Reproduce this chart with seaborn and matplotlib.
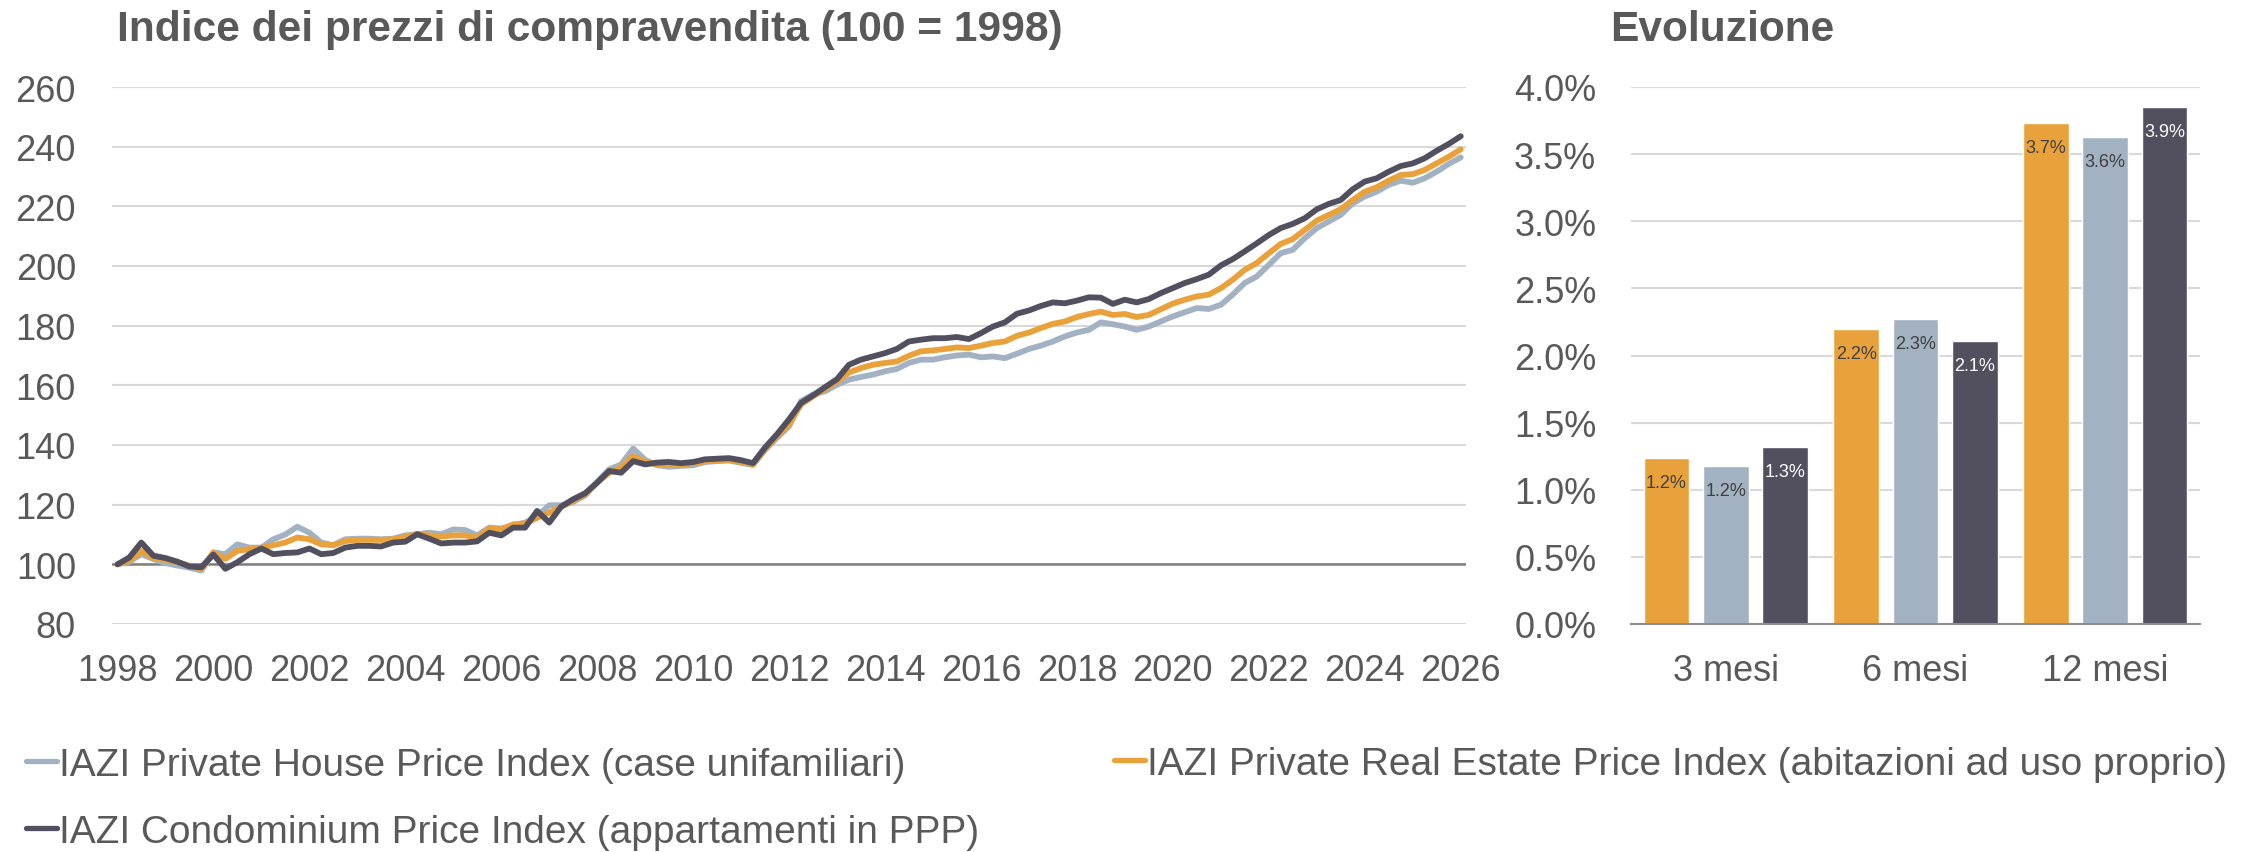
import numpy as np
import pandas as pd
import seaborn as sns
import matplotlib.pyplot as plt
from matplotlib.lines import Line2D

# Quarterly index values (1998 Q1 = 100)
house = [100, 100.9, 103.4, 101.8, 100.4, 99.6, 98.9, 97.9, 104.0, 103.4, 106.7, 105.6,
         105.6, 108.4, 110.0, 112.6, 110.6, 107.3, 106.4, 108.4, 108.6, 108.6, 108.4, 108.6,
         109.7, 110.1, 110.6, 110.1, 111.7, 111.5, 109.7, 112.3, 112.0, 113.0, 114.0, 116.2,
         119.8, 119.8, 120.9, 123.1, 127.6, 131.8, 133.5, 138.8, 135.0, 133.2, 132.7, 133.0,
         133.2, 134.3, 134.6, 134.8, 134.0, 133.3, 138.3, 142.4, 146.3, 154.7, 156.9, 158.0,
         160.2, 161.9, 162.8, 163.6, 164.7, 165.5, 167.5, 168.6, 168.6, 169.4, 170.0, 170.3,
         169.4, 169.7, 169.1, 170.6, 172.2, 173.3, 174.7, 176.4, 177.7, 178.6, 181.1, 180.5,
         179.7, 178.6, 179.7, 181.4, 183.1, 184.5, 185.9, 185.6, 187.0, 190.4, 194.3, 196.5,
         200.4, 204.3, 205.4, 209.3, 212.7, 214.9, 217.1, 221.0, 223.3, 224.9, 227.2, 228.6,
         227.9, 229.4, 231.6, 234.2, 236.4]
real_estate = [100, 101.2, 104.5, 102.0, 101.5, 100.7, 99.6, 98.5, 104.0, 101.8, 104.5, 105.1,
               105.6, 106.4, 107.3, 109.0, 108.4, 106.7, 106.4, 107.8, 108.2, 108.2, 108.2, 108.4,
               109.2, 110.1, 109.7, 109.3, 109.7, 109.7, 108.9, 112.0, 111.7, 113.4, 113.7, 115.6,
               117.3, 119.3, 121.2, 123.5, 127.4, 130.7, 132.4, 136.3, 134.3, 133.5, 133.5, 133.5,
               133.9, 134.5, 134.8, 135.0, 134.3, 133.5, 138.6, 143.0, 146.9, 153.6, 156.3, 158.8,
               161.3, 164.3, 165.8, 166.9, 167.5, 168.0, 169.9, 171.4, 171.7, 172.2, 172.7, 172.5,
               173.3, 174.2, 174.7, 176.6, 177.7, 179.2, 180.6, 181.4, 182.9, 183.9, 184.7, 183.6,
               183.9, 182.9, 183.6, 185.5, 187.4, 188.7, 189.8, 190.4, 192.6, 195.4, 198.7, 201.0,
               204.3, 207.4, 209.0, 212.1, 215.2, 217.1, 219.0, 222.1, 224.9, 226.4, 228.6, 230.5,
               230.8, 232.2, 234.4, 236.6, 239.1]
condo = [100, 102.3, 107.3, 102.9, 102.1, 100.9, 99.3, 99.0, 103.3, 98.5, 100.7, 103.4,
         105.3, 103.4, 103.8, 104.0, 105.3, 103.4, 103.8, 105.6, 106.2, 106.2, 106.0, 107.3,
         107.6, 110.1, 108.6, 107.0, 107.3, 107.3, 107.7, 110.6, 109.7, 112.3, 112.3, 117.9,
         114.0, 119.3, 121.8, 123.8, 127.4, 131.3, 130.7, 134.6, 133.5, 134.1, 134.3, 133.9,
         134.3, 135.2, 135.4, 135.6, 134.9, 133.9, 139.1, 143.6, 148.6, 154.1, 156.6, 159.4,
         162.1, 166.9, 168.6, 169.7, 170.8, 172.2, 174.7, 175.3, 175.8, 175.8, 176.2, 175.5,
         177.5, 179.7, 181.1, 184.0, 185.1, 186.6, 187.8, 187.5, 188.4, 189.5, 189.4, 187.3,
         188.7, 187.8, 188.9, 190.9, 192.6, 194.3, 195.6, 197.1, 200.2, 202.3, 204.9, 207.6,
         210.4, 212.7, 214.1, 216.0, 219.0, 220.8, 222.1, 225.7, 228.3, 229.4, 231.6, 233.5,
         234.4, 236.1, 238.6, 240.9, 243.5]
dates = pd.date_range("1998-01-01", periods=len(condo), freq="QS")

# Evoluzione (%)
periods = ["3 mesi", "6 mesi", "12 mesi"]
chg_real_estate = [1.24, 2.20, 3.73]
chg_house = [1.18, 2.27, 3.63]
chg_condo = [1.32, 2.11, 3.85]

n_house = "IAZI Private House Price Index (case unifamiliari)"
n_re = "IAZI Private Real Estate Price Index (abitazioni ad uso proprio)"
n_condo = "IAZI Condominium Price Index (appartamenti in PPP)"
colors = {n_house: "#A3B2C2", n_re: "#E9A23B", n_condo: "#52505F"}
txt = "#595959"

sns.set_theme(style="white")
plt.rcParams["font.family"] = ["Liberation Sans", "DejaVu Sans"]

W, H = 2254, 853
fig = plt.figure(figsize=(W / 100, H / 100), dpi=100)
ax1 = fig.add_axes([112 / W, 1 - 625 / H, (1466 - 112) / W, (625 - 88) / H])
ax2 = fig.add_axes([1631 / W, 1 - 625 / H, (2200 - 1631) / W, (625 - 88) / H])

# line chart
lines = pd.DataFrame({
    "data": list(dates) * 3,
    "indice": house + real_estate + condo,
    "serie": [n_house] * len(house) + [n_re] * len(real_estate) + [n_condo] * len(condo),
})
sns.lineplot(data=lines, x="data", y="indice", hue="serie",
             hue_order=[n_house, n_re, n_condo], palette=colors,
             linewidth=4.2, legend=False, ax=ax1)
ax1.axhline(100, color="#808080", linewidth=1.8, zorder=1.5)
ax1.set_xlim(pd.Timestamp("1997-11-20"), pd.Timestamp("2026-02-10"))
ax1.set_ylim(80, 260)
ax1.set_yticks(range(80, 261, 20))
years = list(range(1998, 2027, 2))
ax1.set_xticks([pd.Timestamp(f"{y}-01-01") for y in years])
ax1.set_xticklabels([str(y) for y in years])
ax1.yaxis.grid(True, color="#D9D9D9", linewidth=1.5)
ax1.set_axisbelow(True)
ax1.set_xlabel("")
ax1.set_ylabel("")
for s in ax1.spines.values():
    s.set_visible(False)
ax1.tick_params(axis="both", length=0, labelsize=26, colors=txt)
ax1.tick_params(axis="y", pad=26)
ax1.tick_params(axis="x", pad=21)

# bar chart
bars = pd.DataFrame({
    "periodo": periods * 3,
    "var": chg_real_estate + chg_house + chg_condo,
    "serie": [n_re] * 3 + [n_house] * 3 + [n_condo] * 3,
})
sns.barplot(data=bars, x="periodo", y="var", hue="serie",
            hue_order=[n_re, n_house, n_condo], palette=colors,
            width=0.94, gap=0.23, saturation=1, legend=False, ax=ax2)
label_col = {n_re: "#404040", n_house: "#404040", n_condo: "white"}
for cont, name in zip(ax2.containers, [n_re, n_house, n_condo]):
    for b in cont:
        v = b.get_height()
        ax2.annotate(f"{v:.1f}%", (b.get_x() + b.get_width() / 2, v),
                     xytext=(0, -16), textcoords="offset pixels",
                     ha="center", va="top", fontsize=13, color=label_col[name])
ax2.set_xlim(-0.5, 2.5)
ax2.set_ylim(0, 4)
ticks = np.arange(0, 4.01, 0.5)
ax2.set_yticks(ticks)
ax2.set_yticklabels([f"{t:.1f}%" for t in ticks])
ax2.yaxis.grid(True, color="#D9D9D9", linewidth=1.5)
ax2.set_axisbelow(True)
ax2.set_xlabel("")
ax2.set_ylabel("")
for k, s in ax2.spines.items():
    s.set_visible(k == "bottom")
ax2.spines["bottom"].set_color("#8C8C8C")
ax2.spines["bottom"].set_linewidth(1.5)
ax2.set_xticks([-0.5, 0.5, 1.5, 2.5], minor=True)
ax2.tick_params(axis="x", which="minor", length=7.5, width=1.5, color="#8C8C8C", direction="out")
ax2.tick_params(axis="both", which="major", length=0, labelsize=26, colors=txt)
ax2.tick_params(axis="y", pad=25)
ax2.tick_params(axis="x", which="major", pad=21)

# titles
fig.text(117 / W, 1 - 30 / H, "Indice dei prezzi di compravendita (100 = 1998)",
         fontsize=30.6, fontweight="bold", color=txt, va="center", ha="left")
fig.text(1610 / W, 1 - 30 / H, "Evoluzione",
         fontsize=30.6, fontweight="bold", color=txt, va="center", ha="left")

# legend
def handle(c):
    return Line2D([], [], color=c, linewidth=3.8, solid_capstyle="round")

leg_kw = dict(frameon=False, fontsize=28, handlelength=0.8, handletextpad=0.05,
              borderpad=0, borderaxespad=0, labelcolor=txt, loc="center left")
fig.legend([handle(colors[n_house]), handle(colors[n_condo])], [n_house, n_condo],
           bbox_to_anchor=(26 / W, 1 - 799.5 / H), labelspacing=0.8, **leg_kw)
fig.legend([handle(colors[n_re])], [n_re], bbox_to_anchor=(1114 / W, 1 - 765 / H), **leg_kw)

fig.savefig("out.png", dpi=100)
